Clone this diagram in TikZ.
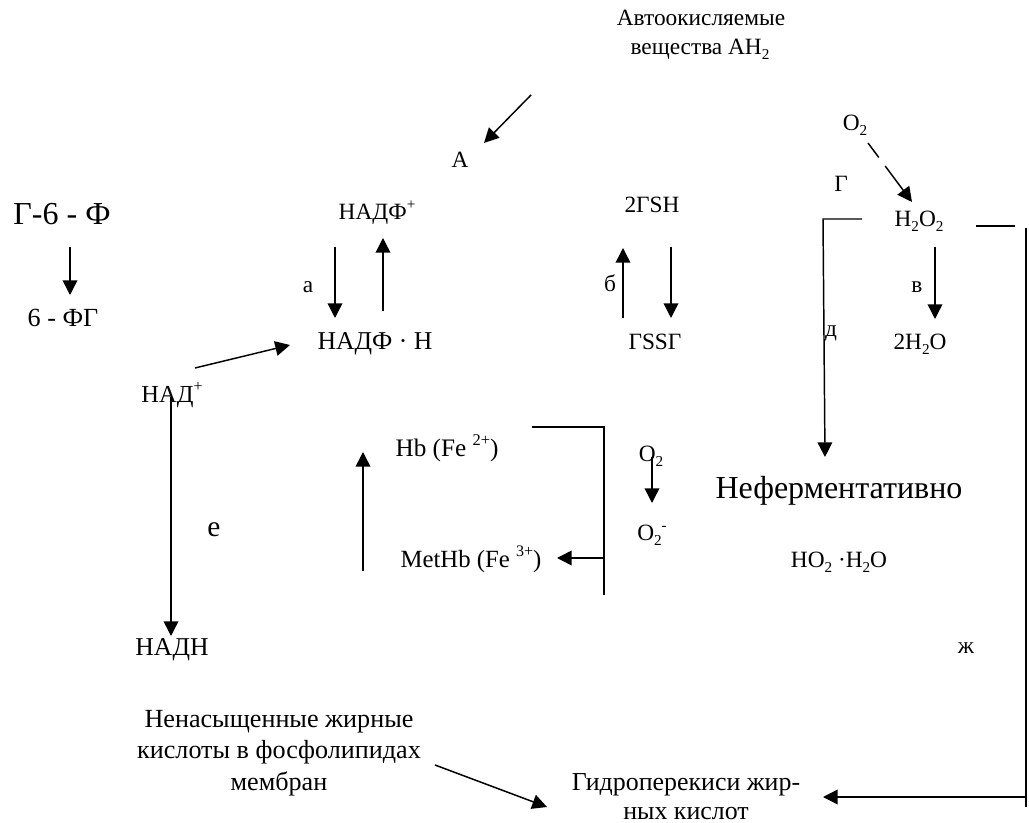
\documentclass[tikz,border=0pt]{standalone}
\usepackage{fontspec}
\usepackage{graphicx}
\setmainfont{Liberation Serif}
\usetikzlibrary{arrows.meta}
\newcommand\lo[1]{\raisebox{-0.2em}{\scalebox{0.65}{#1}}}
\newcommand\hi[1]{\raisebox{0.45em}{\scalebox{0.65}{#1}}}
\begin{document}
\begin{tikzpicture}[x=0.75pt,y=-0.75pt,
  lbl/.style={font=\fontsize{17.5}{21}\selectfont, inner sep=0pt, anchor=base},
  biglbl/.style={lbl, scale=1.371},
  ln/.style={line width=1.1pt},
  arr/.style={ln, -{Triangle[length=11pt,width=11pt]}}]
\useasboundingbox (0,0) rectangle (1029,823);

% ---- text nodes ----
\node[lbl] (auto1) at (701,26) {Автоокисляемые};
\node[lbl] (auto2) at (700,55) {вещества AH\lo{2}};
\node[lbl] (A) at (460,168) {А};
\node[lbl] (nadfp) at (377,220) {НАДФ\hi{+}};
\node[lbl] (gsh) at (652,213) {2ГSH};
\node[lbl] (o2top) at (855,131) {O\lo{2}};
\node[lbl] (lg) at (841,192) {Г};
\node[lbl] (h2o2) at (919,227) {H\lo{2}O\lo{2}};
\node[biglbl] (g6f) at (62,225) {Г-6 - Ф};
\node[lbl, scale=1.12] (fg) at (63,327) {6 - ФГ};
\node[lbl] (la) at (308,293) {а};
\node[lbl, scale=1.1] (nadfh) at (375,350) {НАДФ · Н};
\node[lbl] (lb) at (610,292) {б};
\node[lbl] (gssg) at (655,350) {ГSSГ};
\node[lbl] (lv) at (917,293) {в};
\node[lbl] (h2o) at (920,350) {2H\lo{2}O};
\node[lbl] (ld) at (831,337) {д};
\node[lbl, scale=1.05] (nadp) at (172,403) {НАД\hi{+}};
\node[lbl, scale=1.26] (le) at (214,537) {е};
\node[lbl, scale=1.1] (nadh) at (172,655) {НАДН};
\node[lbl, scale=1.08] (hb) at (447,457) {Hb (Fe \hi{2+})};
\node[lbl, scale=1.06] (methb) at (471,568) {MetHb (Fe \hi{3+})};
\node[lbl] (o2mid) at (651,462) {O\lo{2}};
\node[lbl] (o2minus) at (652,541) {O\lo{2}\hi{-}};
\node[biglbl] (nonenz) at (839,499) {Неферментативно};
\node[lbl] (ho2) at (839,568) {HO\lo{2} ·H\lo{2}O};
\node[lbl] (lzh) at (966,653) {ж};
\node[lbl, scale=1.12] (unsat1) at (279,727) {Ненасыщенные жирные};
\node[lbl, scale=1.12] (unsat2) at (279,758) {кислоты в фосфолипидах};
\node[lbl, scale=1.12] (unsat3) at (279,790) {мембран};
\node[lbl, scale=1.11] (hydro1) at (686,790) {Гидроперекиси жир-};
\node[lbl, scale=1.11] (hydro2) at (686,819) {ных кислот};

% ---- connector end points ----
\coordinate (pAs) at (531,95);   \coordinate (pAe) at (484,143);
\coordinate (pOs) at (868,143);  \coordinate (pOe) at (912,202);
\coordinate (pGs) at (862,219);  \coordinate (pGc) at (823,219);  \coordinate (pGe) at (825,457);
\coordinate (pHs) at (976,226);  \coordinate (pHe) at (1015,226);
\coordinate (pRt) at (1026,228); \coordinate (pRb) at (1026,807);
\coordinate (pRa) at (1026,797); \coordinate (pRe) at (823,797);
\coordinate (pVs) at (935,247);  \coordinate (pVe) at (935,319);
\coordinate (pFs) at (70,247);   \coordinate (pFe) at (70,295);
\coordinate (pa1s) at (335,247); \coordinate (pa1e) at (335,318);
\coordinate (pa2s) at (383,311); \coordinate (pa2e) at (383,238);
\coordinate (pNs) at (195,368);  \coordinate (pNe) at (290,345);
\coordinate (pEs) at (171,397);  \coordinate (pEe) at (171,636);
\coordinate (pHbs) at (363,571); \coordinate (pHbe) at (363,452);
\coordinate (pb1s) at (623,318); \coordinate (pb1e) at (623,248);
\coordinate (pb2s) at (671,247); \coordinate (pb2e) at (671,318);
\coordinate (pKs) at (532,427);  \coordinate (pKc) at (604,427);  \coordinate (pKe) at (604,595);
\coordinate (pMs) at (604,558);  \coordinate (pMe) at (557,558);
\coordinate (pO2s) at (652,457); \coordinate (pO2e) at (652,503);
\coordinate (pUs) at (435,765);  \coordinate (pUe) at (547,807);

% ---- connectors ----
\draw[arr] (pAs) -- (pAe);
\draw[arr, dash pattern=on 13.5pt off 8pt on 60pt off 0pt] (pOs) -- (pOe);
\draw[arr] (pGs) -- (pGc) -- (pGe);
\draw[ln] (pHs) -- (pHe);
\draw[ln] (pRt) -- (pRb);
\draw[arr] (pRa) -- (pRe);
\draw[arr] (pVs) -- (pVe);
\draw[arr] (pFs) -- (pFe);
\draw[arr] (pa1s) -- (pa1e);
\draw[arr] (pa2s) -- (pa2e);
\draw[arr] (pNs) -- (pNe);
\draw[arr] (pEs) -- (pEe);
\draw[arr] (pHbs) -- (pHbe);
\draw[arr] (pb1s) -- (pb1e);
\draw[arr] (pb2s) -- (pb2e);
\draw[ln] (pKs) -- (pKc) -- (pKe);
\draw[arr] (pMs) -- (pMe);
\draw[arr] (pO2s) -- (pO2e);
\draw[arr] (pUs) -- (pUe);
\end{tikzpicture}
\end{document}
